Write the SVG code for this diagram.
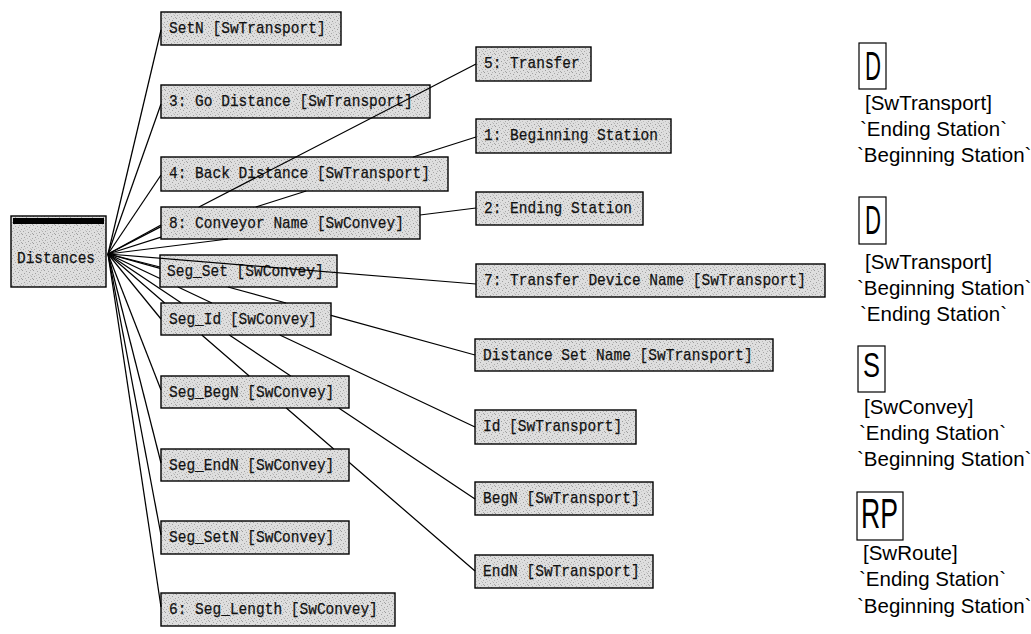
<svg xmlns="http://www.w3.org/2000/svg" width="1031" height="634" viewBox="0 0 1031 634">
<defs>
<pattern id="stip" width="11" height="9" patternUnits="userSpaceOnUse">
<rect width="11" height="9" fill="#dedede"/>
<rect x="0" y="0" width="1" height="1" fill="#9a9a9a"/>
<rect x="4" y="1" width="1" height="1" fill="#a6a6a6"/>
<rect x="8" y="0" width="1" height="1" fill="#b4b4b4"/>
<rect x="2" y="3" width="1" height="1" fill="#a0a0a0"/>
<rect x="7" y="2" width="1" height="1" fill="#9e9e9e"/>
<rect x="10" y="4" width="1" height="1" fill="#aaaaaa"/>
<rect x="5" y="4" width="1" height="1" fill="#bcbcbc"/>
<rect x="1" y="6" width="1" height="1" fill="#a8a8a8"/>
<rect x="6" y="7" width="1" height="1" fill="#9c9c9c"/>
<rect x="9" y="6" width="1" height="1" fill="#b0b0b0"/>
<rect x="3" y="8" width="1" height="1" fill="#b8b8b8"/>
<rect x="8" y="5" width="1" height="1" fill="#c4c4c4"/>
<rect x="3" y="5" width="1" height="1" fill="#c6c6c6"/>
<rect x="10" y="8" width="1" height="1" fill="#a4a4a4"/>
</pattern>
</defs>
<style>
.box{fill:url(#stip);stroke:#000;stroke-width:1.4}
.t{font-family:"Liberation Mono","DejaVu Sans Mono",monospace;font-size:17px;fill:#111;stroke:#111;stroke-width:0.25}
.lg{fill:#fff;stroke:#000;stroke-width:1.2}
.big{font-family:"Liberation Sans",Arial,sans-serif;fill:#000}
.lt{font-family:"Liberation Sans",Arial,sans-serif;font-size:20.5px;fill:#000}
.c{fill:none;stroke:#000;stroke-width:1.25}
</style>
<rect width="1031" height="634" fill="#fff"/>

<g id="distances">
<rect class="box" x="11" y="216" width="95" height="71"/>
<rect x="13" y="218" width="91" height="6" fill="#000"/>
<text class="t" x="17" y="263" textLength="78" lengthAdjust="spacingAndGlyphs">Distances</text>
</g>

<g id="n-setn"><rect class="box" x="161" y="12" width="180" height="33"/><text class="t" x="169" y="33" textLength="156.6" lengthAdjust="spacingAndGlyphs">SetN [SwTransport]</text></g>
<g id="n-go"><rect class="box" x="161" y="85" width="269" height="33"/><text class="t" x="169" y="106" textLength="243.6" lengthAdjust="spacingAndGlyphs">3: Go Distance [SwTransport]</text></g>
<g id="n-back"><rect class="box" x="161" y="157" width="287" height="34"/><text class="t" x="169" y="178" textLength="261" lengthAdjust="spacingAndGlyphs">4: Back Distance [SwTransport]</text></g>
<g id="n-conv"><rect class="box" x="161" y="207" width="259" height="32"/><text class="t" x="169" y="228" textLength="234.9" lengthAdjust="spacingAndGlyphs">8: Conveyor Name [SwConvey]</text></g>
<g id="n-segset"><rect class="box" x="160" y="255" width="177" height="32"/><text class="t" x="167" y="276" textLength="156.6" lengthAdjust="spacingAndGlyphs">Seg_Set [SwConvey]</text></g>
<g id="n-segid"><rect class="box" x="161" y="303" width="170" height="32"/><text class="t" x="169" y="324" textLength="147.9" lengthAdjust="spacingAndGlyphs">Seg_Id [SwConvey]</text></g>
<g id="n-segbegn"><rect class="box" x="161" y="376" width="188" height="32"/><text class="t" x="169" y="397" textLength="165.3" lengthAdjust="spacingAndGlyphs">Seg_BegN [SwConvey]</text></g>
<g id="n-segendn"><rect class="box" x="161" y="449" width="188" height="32"/><text class="t" x="169" y="470" textLength="165.3" lengthAdjust="spacingAndGlyphs">Seg_EndN [SwConvey]</text></g>
<g id="n-segsetn"><rect class="box" x="161" y="521" width="188" height="33"/><text class="t" x="169" y="542" textLength="165.3" lengthAdjust="spacingAndGlyphs">Seg_SetN [SwConvey]</text></g>
<g id="n-seglen"><rect class="box" x="161" y="593" width="234" height="33"/><text class="t" x="169" y="614" textLength="208.8" lengthAdjust="spacingAndGlyphs">6: Seg_Length [SwConvey]</text></g>

<g id="n-transfer"><rect class="box" x="476" y="47" width="115" height="34"/><text class="t" x="484" y="68" textLength="95.7" lengthAdjust="spacingAndGlyphs">5: Transfer</text></g>
<g id="n-begst"><rect class="box" x="476" y="119" width="195" height="34"/><text class="t" x="484" y="140" textLength="174" lengthAdjust="spacingAndGlyphs">1: Beginning Station</text></g>
<g id="n-endst"><rect class="box" x="476" y="192" width="167" height="33"/><text class="t" x="484" y="213" textLength="147.9" lengthAdjust="spacingAndGlyphs">2: Ending Station</text></g>
<g id="n-tdn"><rect class="box" x="476" y="264" width="349" height="33"/><text class="t" x="484" y="285" textLength="321.9" lengthAdjust="spacingAndGlyphs">7: Transfer Device Name [SwTransport]</text></g>
<g id="n-dsn"><rect class="box" x="475" y="339" width="298" height="32"/><text class="t" x="483" y="360" textLength="269.7" lengthAdjust="spacingAndGlyphs">Distance Set Name [SwTransport]</text></g>
<g id="n-id"><rect class="box" x="475" y="410" width="161" height="34"/><text class="t" x="483" y="431" textLength="139.2" lengthAdjust="spacingAndGlyphs">Id [SwTransport]</text></g>
<g id="n-begn"><rect class="box" x="475" y="482" width="178" height="33"/><text class="t" x="483" y="503" textLength="156.6" lengthAdjust="spacingAndGlyphs">BegN [SwTransport]</text></g>
<g id="n-endn"><rect class="box" x="475" y="555" width="178" height="33"/><text class="t" x="483" y="576" textLength="156.6" lengthAdjust="spacingAndGlyphs">EndN [SwTransport]</text></g>

<g id="connectors">
<path class="c" d="M108,254 L161,30"/>
<path class="c" d="M108,254 L161,104"/>
<path class="c" d="M108,254 L161,175"/>
<path class="c" d="M108,254 L161,225"/>
<path class="c" d="M108,254 L160,267"/>
<path class="c" d="M108,254 L161,319"/>
<path class="c" d="M108,254 L161,390"/>
<path class="c" d="M108,254 L161,463"/>
<path class="c" d="M108,254 L161,535"/>
<path class="c" d="M108,254 L161,607"/>
<path class="c" d="M108,254 L161,226.6 M199,207 L476,64"/>
<path class="c" d="M108,254 L161,237.2 M255.8,207 L306.2,191 M413.1,157 L476,137"/>
<path class="c" d="M108,254 L228,239 M420,215 L476,208"/>
<path class="c" d="M108,254 L476,284"/>
<path class="c" d="M108,254 L160,268.3 M227.9,287 L286.1,303 M331,315.4 L475,355"/>
<path class="c" d="M108,254 L160,278.5 M178,287 L211.9,303 M279.8,335 L475,427"/>
<path class="c" d="M108,254 L181.4,303 M229.3,335 L290.7,376 M338.7,408 L475,499"/>
<path class="c" d="M108,254 L164.7,303 M201.8,335 L249.2,376 M286.3,408 L333.7,449 M349,462.2 L475,571"/>
</g>

<g id="legend-d1">
<rect class="lg" x="859" y="43" width="27" height="46"/>
<text class="big" x="865" y="80" font-size="40" textLength="16" lengthAdjust="spacingAndGlyphs">D</text>
<text class="lt" x="865" y="110">[SwTransport]</text>
<text class="lt" x="860" y="136">`Ending Station`</text>
<text class="lt" x="857" y="162">`Beginning Station`</text>
</g>
<g id="legend-d2">
<rect class="lg" x="859" y="197" width="27" height="47"/>
<text class="big" x="865" y="234" font-size="40" textLength="16" lengthAdjust="spacingAndGlyphs">D</text>
<text class="lt" x="865" y="269">[SwTransport]</text>
<text class="lt" x="857" y="295">`Beginning Station`</text>
<text class="lt" x="860" y="321">`Ending Station`</text>
</g>
<g id="legend-s">
<rect class="lg" x="858" y="346" width="27" height="46"/>
<text class="big" x="863" y="377" font-size="35" textLength="17" lengthAdjust="spacingAndGlyphs">S</text>
<text class="lt" x="864" y="414">[SwConvey]</text>
<text class="lt" x="859" y="440">`Ending Station`</text>
<text class="lt" x="857" y="466">`Beginning Station`</text>
</g>
<g id="legend-rp">
<rect class="lg" x="857" y="492" width="46" height="48"/>
<text class="big" x="861" y="528" font-size="42" textLength="37" lengthAdjust="spacingAndGlyphs">RP</text>
<text class="lt" x="863" y="560">[SwRoute]</text>
<text class="lt" x="859" y="586">`Ending Station`</text>
<text class="lt" x="857" y="613">`Beginning Station`</text>
</g>
</svg>
